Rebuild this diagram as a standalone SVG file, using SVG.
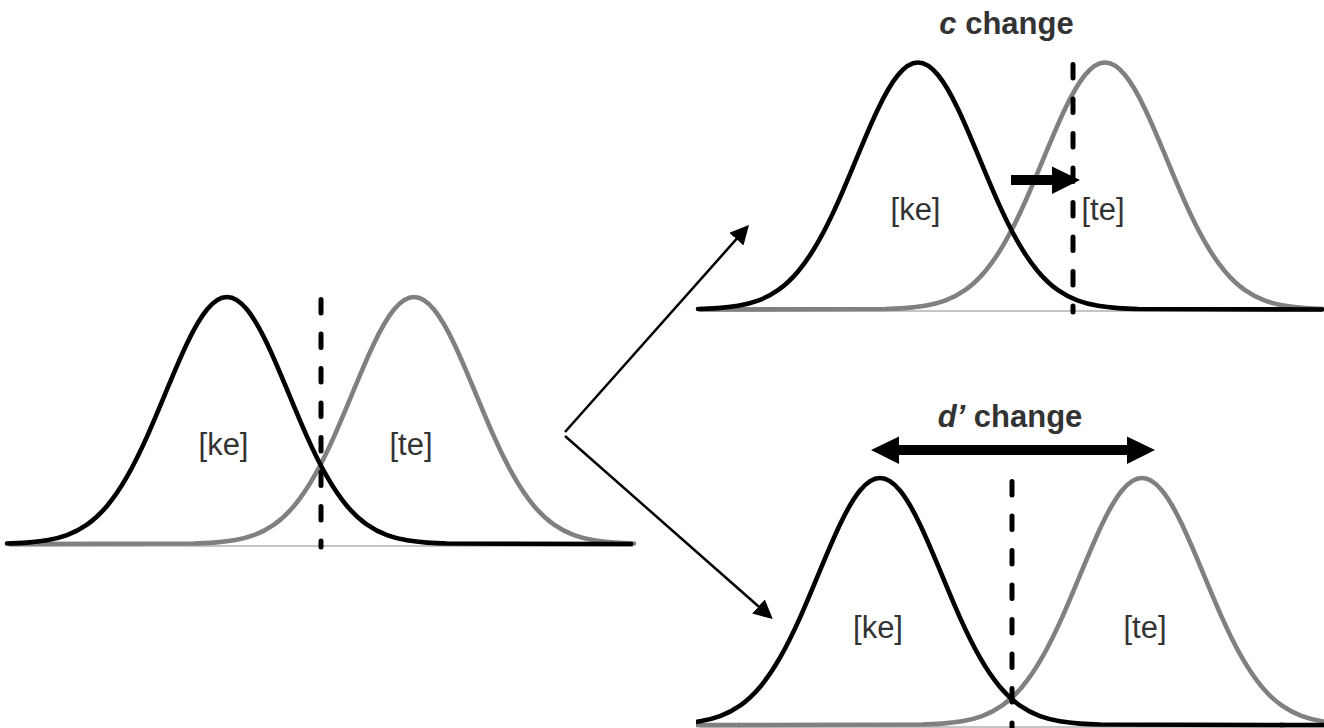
<svg xmlns="http://www.w3.org/2000/svg" xmlns:xlink="http://www.w3.org/1999/xlink" width="1324" height="728" viewBox="0 0 1324 728">
<style>
.axis{stroke:#c4c4c4;stroke-width:2;fill:none}
.ck{stroke:#000;stroke-width:4.6;fill:none;stroke-linecap:round;stroke-linejoin:round}
.ct{stroke:#808080;stroke-width:4.6;fill:none;stroke-linecap:round;stroke-linejoin:round}
.tk{stroke:#000;stroke-width:4.6;fill:none}
.tt{stroke:#808080;stroke-width:4.6;fill:none}
.crit{stroke:#000;stroke-width:5;stroke-dasharray:13.5 21;stroke-linecap:round;fill:none}
.lbl{font-family:"Liberation Sans",Arial,sans-serif;font-size:31px;fill:#333;text-anchor:middle}
.ttl{font-family:"Liberation Sans",Arial,sans-serif;font-size:31px;font-weight:bold;fill:#333;text-anchor:middle}
.conn{stroke:#000;stroke-width:2.5;fill:none}
.big{fill:#000;stroke:none}
</style>
<defs>
<path id="gk" d="M -220,-0.45 C -213.33,-0.62 -206.67,-0.89 -200,-1.36 C -193.33,-1.83 -186.67,-2.51 -180,-3.65 C -173.33,-4.79 -166.67,-6.4 -160,-8.85 C -153.33,-11.3 -146.67,-14.61 -140,-19.3 C -133.33,-23.99 -126.67,-30.09 -120,-38 C -113.33,-45.91 -106.67,-55.63 -100,-67.3 C -93.33,-78.97 -86.67,-92.5 -80,-107.4 C -73.33,-122.3 -66.67,-138.51 -60,-154.6 C -53.33,-170.69 -46.67,-186.69 -40,-200.6 C -33.33,-214.51 -26.67,-226.37 -20,-234.5 C -13.33,-242.63 -6.67,-247 0,-247 C 6.67,-247 13.33,-242.63 20,-234.5 C 26.67,-226.37 33.33,-214.51 40,-200.6 C 46.67,-186.69 53.33,-170.69 60,-154.6 C 66.67,-138.51 73.33,-122.3 80,-107.4 C 86.67,-92.5 93.33,-78.97 100,-67.3 C 106.67,-55.63 113.33,-45.91 120,-38 C 126.67,-30.09 133.33,-23.99 140,-19.3 C 146.67,-14.61 153.33,-11.3 160,-8.85 C 166.67,-6.4 173.33,-4.79 180,-3.65 C 186.67,-2.51 193.33,-1.83 200,-1.36 C 206.67,-0.89 213.33,-0.62 220,-0.45 L 404,0"/>
<path id="gt" d="M -404,0 L -220,-0.45 C -213.33,-0.62 -206.67,-0.89 -200,-1.36 C -193.33,-1.83 -186.67,-2.51 -180,-3.65 C -173.33,-4.79 -166.67,-6.4 -160,-8.85 C -153.33,-11.3 -146.67,-14.61 -140,-19.3 C -133.33,-23.99 -126.67,-30.09 -120,-38 C -113.33,-45.91 -106.67,-55.63 -100,-67.3 C -93.33,-78.97 -86.67,-92.5 -80,-107.4 C -73.33,-122.3 -66.67,-138.51 -60,-154.6 C -53.33,-170.69 -46.67,-186.69 -40,-200.6 C -33.33,-214.51 -26.67,-226.37 -20,-234.5 C -13.33,-242.63 -6.67,-247 0,-247 C 6.67,-247 13.33,-242.63 20,-234.5 C 26.67,-226.37 33.33,-214.51 40,-200.6 C 46.67,-186.69 53.33,-170.69 60,-154.6 C 66.67,-138.51 73.33,-122.3 80,-107.4 C 86.67,-92.5 93.33,-78.97 100,-67.3 C 106.67,-55.63 113.33,-45.91 120,-38 C 126.67,-30.09 133.33,-23.99 140,-19.3 C 146.67,-14.61 153.33,-11.3 160,-8.85 C 166.67,-6.4 173.33,-4.79 180,-3.65 C 186.67,-2.51 193.33,-1.83 200,-1.36 C 206.67,-0.89 213.33,-0.62 220,-0.45"/>
<marker id="ah" viewBox="0 0 19 19" refX="16" refY="9.5" markerWidth="19" markerHeight="19" markerUnits="userSpaceOnUse" orient="auto">
<path d="M0,0 L19,9.5 L0,19 z" fill="#000"/>
</marker>
<clipPath id="clipD"><rect x="696" y="380" width="628" height="348"/></clipPath>
</defs>

<g id="panel-original">
<line class="axis" x1="9" y1="546" x2="633" y2="546"/>
<use xlink:href="#gt" href="#gt" class="ct" transform="translate(414,544)"/>
<use xlink:href="#gk" href="#gk" class="ck" transform="translate(227,544)"/>
<line class="crit" x1="321" y1="299.5" x2="321" y2="547"/>
<text class="lbl" x="223.5" y="455">[ke]</text>
<text class="lbl" x="411" y="455">[te]</text>
</g>

<g id="panel-c-change">
<line class="axis" x1="699" y1="311" x2="1321" y2="311"/>
<use xlink:href="#gt" href="#gt" class="ct" transform="translate(1105,309.5)"/>
<use xlink:href="#gk" href="#gk" class="ck" transform="translate(918,309.5)"/>
<line class="crit" x1="1073" y1="64.5" x2="1073" y2="312"/>
<text class="lbl" x="915.5" y="220">[ke]</text>
<text class="lbl" x="1103" y="220">[te]</text>
<text class="ttl" x="1006.5" y="34"><tspan font-style="italic">c</tspan> change</text>
<path class="big" d="M1011,175 L1052,175 L1052,166.5 L1080,180 L1052,194 L1052,185 L1011,185 Z"/>
</g>

<g id="panel-d-change">
<g clip-path="url(#clipD)">
<line class="axis" x1="699" y1="727" x2="1324" y2="727"/>
<line class="tt" x1="690" y1="725" x2="740" y2="725"/>
<use xlink:href="#gt" href="#gt" class="ct" transform="translate(1142,725)"/>
<line class="tk" x1="1280" y1="725" x2="1330" y2="725"/>
<use xlink:href="#gk" href="#gk" class="ck" transform="translate(880,725)"/>
</g>
<line class="crit" x1="1012" y1="481.5" x2="1012" y2="740"/>
<text class="lbl" x="878" y="638">[ke]</text>
<text class="lbl" x="1145" y="638">[te]</text>
<text class="ttl" x="1010" y="427"><tspan font-style="italic">d’</tspan> change</text>
<path class="big" d="M871,450 L899,436.5 L899,445 L1127,445 L1127,436.5 L1155,450 L1127,464 L1127,455 L899,455 L899,464 Z"/>
</g>

<g id="connectors">
<line class="conn" x1="565" y1="432" x2="747" y2="227.2" marker-end="url(#ah)"/>
<line class="conn" x1="565" y1="436" x2="770.5" y2="617" marker-end="url(#ah)"/>
</g>
</svg>
